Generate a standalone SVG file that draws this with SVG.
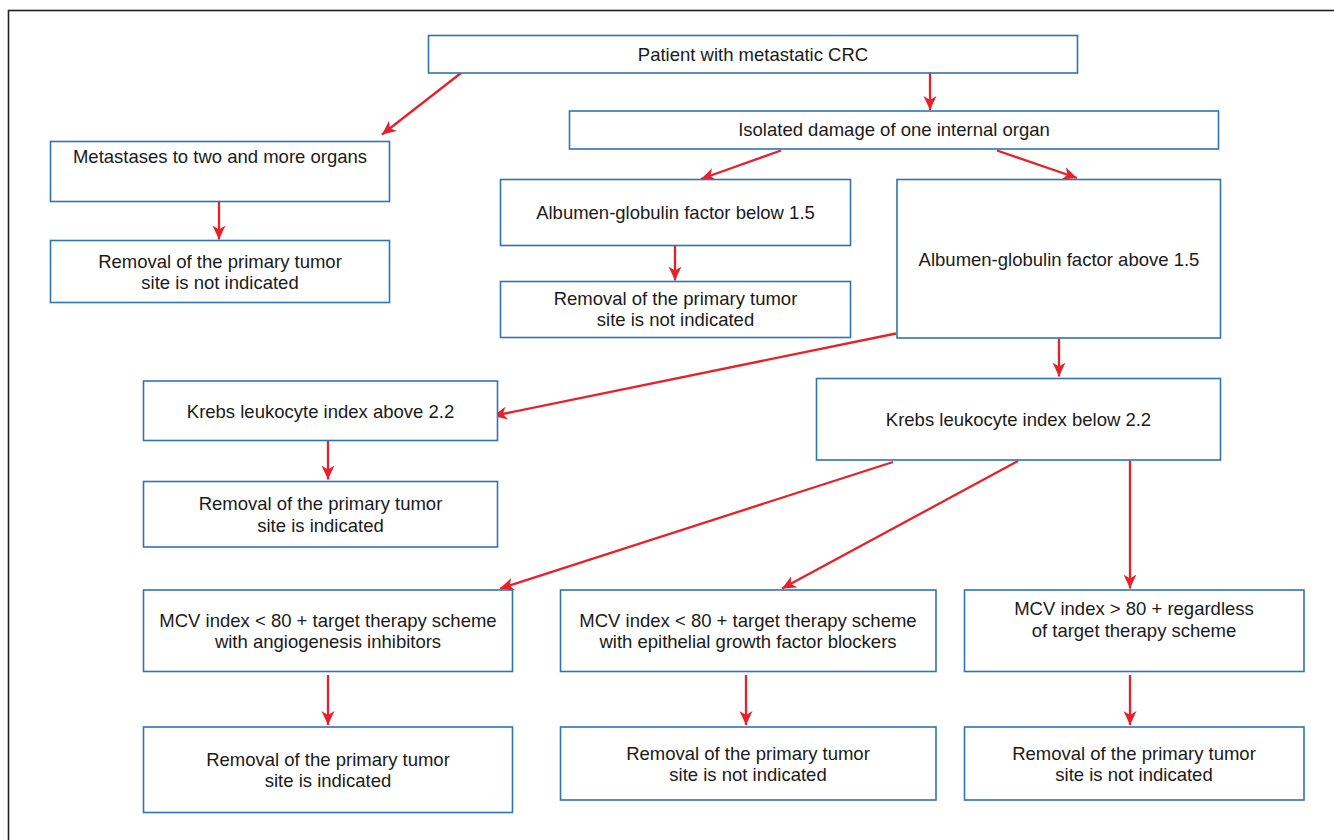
<svg xmlns="http://www.w3.org/2000/svg" width="1334" height="840" viewBox="0 0 1334 840">
<style>
.box{fill:#ffffff;stroke:#2f74b5;stroke-width:1.6}
.t{font-family:"Liberation Sans",Arial,sans-serif;font-size:18.5px;fill:#1a1a1a;text-anchor:middle}
.c{stroke:#e8202a;stroke-width:2.3;fill:none;marker-end:url(#ah)}
</style>
<defs>
<marker id="ah" markerUnits="userSpaceOnUse" viewBox="0 -7 14 14" markerWidth="14" markerHeight="14" refX="14" refY="0" orient="auto">
<path d="M0,-6.5 L14,0 L0,6.5 L4,0 Z" fill="#e8202a"/>
</marker>
</defs>
<rect x="8.5" y="10.5" width="1400" height="900" fill="#ffffff" stroke="#222222" stroke-width="1.6"/>
<g id="connectors">
<line class="c" x1="461" y1="73" x2="382" y2="134.5"/>
<line class="c" x1="930" y1="73" x2="930" y2="110"/>
<line class="c" x1="219" y1="201.5" x2="219" y2="239.5"/>
<line class="c" x1="781" y1="150.5" x2="701" y2="179"/>
<line class="c" x1="997" y1="150.5" x2="1077" y2="178"/>
<line class="c" x1="675" y1="245.5" x2="675" y2="280.5"/>
<line class="c" x1="896" y1="333.5" x2="493" y2="416"/>
<line class="c" x1="1059" y1="338.5" x2="1059" y2="376.5"/>
<line class="c" x1="328" y1="441" x2="328" y2="479.5"/>
<line class="c" x1="893" y1="462" x2="500" y2="588.5"/>
<line class="c" x1="1018" y1="461" x2="782" y2="588.5"/>
<line class="c" x1="1130" y1="461" x2="1130" y2="588.5"/>
<line class="c" x1="328" y1="675" x2="328" y2="725"/>
<line class="c" x1="746" y1="675" x2="746" y2="725"/>
<line class="c" x1="1130" y1="675" x2="1130" y2="725"/>
</g>
<g id="n-patient"><rect class="box" x="428.5" y="35.5" width="649" height="37.5"/><text class="t" x="753" y="61">Patient with metastatic CRC</text></g>
<g id="n-metastases"><rect class="box" x="50.5" y="141.5" width="339" height="60"/><text class="t" x="220" y="163">Metastases to two and more organs</text></g>
<g id="n-removal-1"><rect class="box" x="50.5" y="240.5" width="339" height="62"/><text class="t" x="220" y="268">Removal of the primary tumor</text><text class="t" x="220" y="288.5">site is not indicated</text></g>
<g id="n-isolated"><rect class="box" x="569.5" y="111" width="649" height="38"/><text class="t" x="894" y="136">Isolated damage of one internal organ</text></g>
<g id="n-ag-below"><rect class="box" x="500.5" y="179.5" width="350" height="66"/><text class="t" x="675.5" y="219">Albumen-globulin factor below 1.5</text></g>
<g id="n-removal-2"><rect class="box" x="500.5" y="281.5" width="350" height="56"/><text class="t" x="675.5" y="305">Removal of the primary tumor</text><text class="t" x="675.5" y="326">site is not indicated</text></g>
<g id="n-ag-above"><rect class="box" x="897" y="179.5" width="323.5" height="158.5"/><text class="t" x="1059" y="266">Albumen-globulin factor above 1.5</text></g>
<g id="n-krebs-above"><rect class="box" x="143.5" y="381" width="354" height="59.5"/><text class="t" x="320.5" y="418">Krebs leukocyte index above 2.2</text></g>
<g id="n-removal-3"><rect class="box" x="143.5" y="481.5" width="354" height="65.5"/><text class="t" x="320.5" y="510">Removal of the primary tumor</text><text class="t" x="320.5" y="531.5">site is indicated</text></g>
<g id="n-krebs-below"><rect class="box" x="816.5" y="378.5" width="404" height="81.5"/><text class="t" x="1018.5" y="426">Krebs leukocyte index below 2.2</text></g>
<g id="n-mcv-angio"><rect class="box" x="143.5" y="590" width="369" height="81.5"/><text class="t" x="328" y="626.5">MCV index &lt; 80 + target therapy scheme</text><text class="t" x="328" y="647.5">with angiogenesis inhibitors</text></g>
<g id="n-mcv-egf"><rect class="box" x="560.5" y="590" width="375.5" height="81.5"/><text class="t" x="748" y="626.5">MCV index &lt; 80 + target therapy scheme</text><text class="t" x="748" y="647.5">with epithelial growth factor blockers</text></g>
<g id="n-mcv-80"><rect class="box" x="964.5" y="590" width="339.5" height="81.5"/><text class="t" x="1134" y="615">MCV index &gt; 80 + regardless</text><text class="t" x="1134" y="637">of target therapy scheme</text></g>
<g id="n-removal-4"><rect class="box" x="143.5" y="727" width="369" height="85.5"/><text class="t" x="328" y="766">Removal of the primary tumor</text><text class="t" x="328" y="786.5">site is indicated</text></g>
<g id="n-removal-5"><rect class="box" x="560.5" y="727" width="375.5" height="73"/><text class="t" x="748" y="760">Removal of the primary tumor</text><text class="t" x="748" y="781">site is not indicated</text></g>
<g id="n-removal-6"><rect class="box" x="964.5" y="727" width="339.5" height="73"/><text class="t" x="1134" y="760">Removal of the primary tumor</text><text class="t" x="1134" y="781">site is not indicated</text></g>
</svg>
